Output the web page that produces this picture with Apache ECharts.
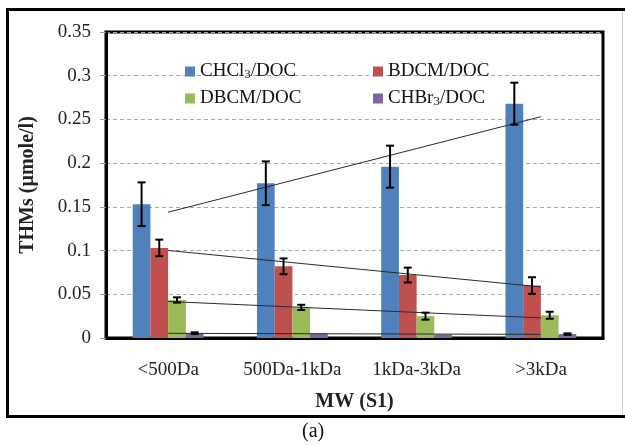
<!DOCTYPE html>
<html>
<head>
<meta charset="utf-8">
<script src="https://cdn.jsdelivr.net/npm/echarts@6/dist/echarts.min.js"></script>
<style>html,body{margin:0;padding:0;background:#fff}#c{width:625px;height:446px}</style>
</head>
<body>
<div id="c"></div>
<script>
const categories = ['<500Da', '500Da-1kDa', '1kDa-3kDa', '>3kDa'];
const seriesNames = ['CHCl3/DOC', 'BDCM/DOC', 'DBCM/DOC', 'CHBr3/DOC'];
const chcl3 = [0.153, 0.177, 0.196, 0.268];
const bdcm = [0.103, 0.082, 0.072, 0.060];
const dbcm = [0.0435, 0.035, 0.025, 0.026];
const chbr3 = [0.0055, 0.005, 0.004, 0.0045];
const chcl3Err = [0.025, 0.025, 0.024, 0.024];
const bdcmErr = [0.0095, 0.009, 0.0085, 0.0095];
const dbcmErr = [0.003, 0.003, 0.004, 0.004];
const chbr3Err = [0.001, 0, 0, 0.0008];
const yTicks = ['0', '0.05', '0.1', '0.15', '0.2', '0.25', '0.3', '0.35'];
const colors = ['#4F81BD', '#C0504D', '#9BBB59', '#8064A2'];

const values = [chcl3, bdcm, dbcm, chbr3];
const errs = [chcl3Err, bdcmErr, dbcmErr, chbr3Err];
const FONT = '"Liberation Serif", "Times New Roman", serif';
const GROUP = 0.57;

function linFit(arr) {
  const n = arr.length;
  const mx = (n - 1) / 2;
  const my = arr.reduce((a, b) => a + b, 0) / n;
  let sxy = 0, sxx = 0;
  arr.forEach((y, x) => { sxy += (x - mx) * (y - my); sxx += (x - mx) * (x - mx); });
  const b = sxy / sxx;
  return arr.map((_, x) => my + b * (x - mx));
}

const series = [];
values.forEach((v, s) => {
  series.push({
    name: seriesNames[s], type: 'bar', data: v,
    itemStyle: { color: colors[s] },
    barGap: '0%', barCategoryGap: '43%'
  });
});
values.forEach((v, s) => {
  series.push({
    type: 'line', data: linFit(v), showSymbol: false, symbol: 'none',
    lineStyle: { color: '#2a2a2a', width: 1 }, z: 5, silent: true
  });
});
const errData = [];
values.forEach((v, s) => v.forEach((val, i) => errData.push([i, val, errs[s][i], s])));
series.push({
  type: 'custom', z: 6, silent: true,
  data: errData,
  encode: { x: 0, y: 1 },
  renderItem: function (params, api) {
    const ci = api.value(0), v = api.value(1), e = api.value(2), s = api.value(3);
    if (!e) return;
    const band = api.size([1, 0])[0];
    const gw = band * GROUP, bw = gw / 4;
    const c = api.coord([ci, v]);
    const x = c[0] - gw / 2 + bw * (s + 0.5);
    const top = api.coord([ci, v + e])[1];
    const bot = api.coord([ci, v - e])[1];
    const st = { stroke: '#000', lineWidth: 2 };
    const cw = 4;
    return {
      type: 'group', children: [
        { type: 'line', shape: { x1: x, y1: top, x2: x, y2: bot }, style: st },
        { type: 'line', shape: { x1: x - cw, y1: top, x2: x + cw, y2: top }, style: st },
        { type: 'line', shape: { x1: x - cw, y1: bot, x2: x + cw, y2: bot }, style: st }
      ]
    };
  }
});

function legendFmt(name) {
  if (name === 'CHCl3/DOC') return '{a|CHCl}{s|3}{a|/DOC}';
  if (name === 'CHBr3/DOC') return '{a|CHBr}{s|3}{a|/DOC}';
  return '{a|' + name + '}';
}
const legendPos = [[180, 57], [368, 57], [180, 84], [368, 84]];
const legends = seriesNames.map((n, i) => ({
  data: [n], left: legendPos[i][0], top: legendPos[i][1],
  icon: 'rect', itemWidth: 10, itemHeight: 10, itemGap: 5,
  formatter: legendFmt,
  textStyle: {
    fontFamily: FONT, fontSize: 19, color: '#111',
    rich: {
      a: { fontFamily: FONT, fontSize: 19, color: '#111' },
      s: { fontFamily: FONT, fontSize: 13, color: '#111', verticalAlign: 'bottom', padding: [6, 0, 0, 0] }
    }
  }
}));

const chart = echarts.init(document.getElementById('c'));
chart.setOption({
  animation: false,
  backgroundColor: '#fff',
  legend: legends,
  grid: { left: 106, right: 22, top: 32, bottom: 108, show: true, borderColor: '#000', borderWidth: 3, containLabel: false },
  xAxis: {
    type: 'category', data: categories,
    axisLine: { lineStyle: { color: '#000', width: 3 } },
    axisTick: { show: false },
    axisLabel: { interval: 0, margin: 23, fontFamily: FONT, fontSize: 19, color: '#222' },
    name: 'MW (S1)', nameLocation: 'middle', nameGap: 54,
    nameTextStyle: { fontFamily: FONT, fontSize: 20, fontWeight: 'bold', color: '#222' }
  },
  yAxis: {
    type: 'value', min: 0, max: 0.35, interval: 0.05,
    axisLine: { show: true, lineStyle: { color: '#000', width: 3 } },
    axisTick: { show: true, length: 6, lineStyle: { color: '#999' } },
    axisLabel: { margin: 15, fontFamily: FONT, fontSize: 19, color: '#222',
      formatter: (v) => yTicks[Math.round(v / 0.05)] },
    splitLine: { lineStyle: { color: '#a6a6a6', type: [4, 3], width: 1 } },
    name: 'THMs (µmole/l)', nameLocation: 'middle', nameGap: 68,
    nameTextStyle: { fontFamily: FONT, fontSize: 20, fontWeight: 'bold', color: '#222' }
  },
  graphic: [
    { type: 'rect', shape: { x: 7.5, y: 9.5, width: 640, height: 407 }, style: { fill: 'none', stroke: '#000', lineWidth: 3 }, z: 100 },
    { type: 'line', shape: { x1: 622.5, y1: 11, x2: 622.5, y2: 415 }, style: { stroke: '#ccc', lineWidth: 1 }, z: 100 },
    { type: 'text', left: 302, top: 422, style: { text: '(a)', fontFamily: FONT, fontSize: 20, fill: '#111' } }
  ],
  series: series
});
</script>
</body>
</html>
